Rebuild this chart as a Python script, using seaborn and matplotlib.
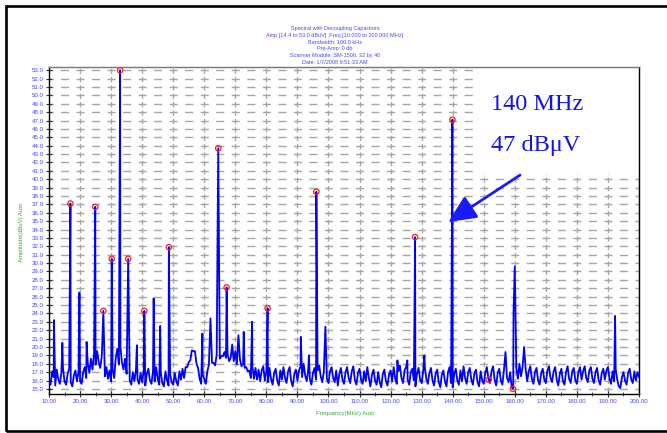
import numpy as np
import pandas as pd
import matplotlib
matplotlib.use("Agg")
import matplotlib.pyplot as plt
import seaborn as sns
from matplotlib.patches import Rectangle
from matplotlib.ticker import MultipleLocator, FormatStrFormatter

# ---------------- data ----------------
title_lines = [
    "Spectral with Decoupling Capacitors",
    "Amp [14.4 to 53.0 dBuV]  Freq [10.000 to 200.000 MHz]",
    "Bandwidth: 100.0 kHz",
    "Pre-Amp: 0 db",
    "Scanner Module: SM-1500, 32 by 40",
    "Date: 1/7/2008 9:51:33 AM",
]
x_label = "Frequency(MHz) Auto"
y_label = "Amplitude(dBuV) Auto"
note_freq = "140 MHz"
note_amp = "47 dB\u03bcV"

# noise floor, sampled every 0.5 MHz from 10 MHz to 200 MHz
noise_start_mhz = 10.0
noise_step_mhz = 0.5
noise_db = [
    16.2, 15.5, 17.1, 16.4, 15.4, 17.3, 16.1, 15.6, 17.0, 17.5,
    15.9, 15.5, 16.8, 17.4, 15.8, 15.3, 16.6, 17.2, 15.9, 17.0,
    16.0, 15.6, 17.0, 17.6, 16.3, 18.0, 16.9, 18.6, 17.3, 19.1,
    17.9, 19.5, 18.2, 17.5, 18.9, 17.1, 16.5, 17.6, 16.2, 17.2,
    15.9, 17.3, 16.3, 18.7, 19.8, 17.9, 20.0, 18.1, 17.3, 18.6,
    16.8, 17.9, 16.0, 15.5, 17.0, 15.9, 17.3, 16.1, 15.6, 16.9,
    15.8, 17.1, 15.4, 16.8, 17.4, 16.0, 15.6, 17.2, 15.9, 17.6,
    16.2, 15.5, 16.9, 15.7, 15.3, 17.1, 16.0, 15.4, 16.8, 15.8,
    15.5, 16.9, 15.9, 15.4, 17.1, 16.1, 17.4, 16.3, 17.6, 17.6,
    18.2, 18.4, 19.6, 19.5, 19.5, 18.0, 17.5, 16.2, 15.6, 16.7,
    16.2, 15.6, 17.1, 17.9, 16.6, 18.1, 18.1, 17.8, 19.1, 17.4,
    18.6, 18.9, 18.9, 19.4, 18.7, 19.2, 18.3, 18.7, 20.3, 18.3,
    19.5, 17.9, 17.9, 18.5, 17.7, 18.0, 17.5, 17.6, 17.1, 17.2,
    16.3, 17.7, 16.2, 17.5, 16.1, 17.3, 15.9, 17.2, 17.7, 16.0,
    17.1, 15.8, 17.5, 16.2, 15.5, 16.9, 17.4, 16.0, 15.4, 17.2,
    16.1, 17.6, 16.3, 15.7, 17.1, 17.6, 15.9, 15.3, 16.8, 17.3,
    16.0, 17.2, 17.7, 16.4, 18.0, 16.6, 15.9, 17.4, 16.2, 15.5,
    16.9, 17.5, 16.1, 17.2, 17.8, 16.5, 15.8, 17.0, 17.6, 16.2,
    15.7, 17.1, 17.6, 16.3, 15.8, 17.2, 15.4, 16.8, 17.5, 16.1,
    15.6, 17.0, 17.6, 16.3, 15.7, 17.1, 17.7, 16.0, 15.5, 16.9,
    17.4, 16.1, 15.6, 17.1, 15.9, 17.6, 16.3, 15.3, 16.7, 17.3,
    16.0, 15.5, 17.0, 15.8, 15.2, 16.8, 17.3, 15.9, 15.4, 16.7,
    17.2, 15.9, 17.6, 16.2, 15.6, 17.1, 17.8, 16.3, 15.7, 17.2,
    17.6, 16.1, 15.5, 17.0, 17.4, 16.0, 15.3, 16.8, 17.5, 16.1,
    15.7, 17.1, 17.7, 16.2, 15.6, 16.9, 17.5, 16.0, 15.4, 16.8,
    17.3, 15.8, 15.2, 16.7, 17.2, 15.9, 15.3, 17.0, 17.6, 15.7,
    15.2, 16.8, 17.4, 16.0, 15.5, 17.2, 15.9, 17.7, 16.3, 15.6,
    17.0, 17.5, 16.1, 15.5, 16.9, 17.3, 15.8, 15.3, 17.1, 16.0,
    15.6, 16.9, 17.6, 16.2, 15.7, 17.1, 17.7, 16.1, 15.4, 16.9,
    17.4, 16.0, 15.5, 17.2, 17.7, 16.3, 15.8, 17.0, 15.2, 15.6,
    16.7, 17.5, 16.2, 18.0, 16.5, 17.6, 16.1, 17.3, 15.9, 17.1,
    17.7, 16.2, 15.6, 17.0, 17.5, 16.0, 15.5, 16.9, 17.4, 16.1,
    15.7, 17.2, 17.7, 16.3, 15.8, 17.1, 17.6, 16.1, 15.4, 16.8,
    17.4, 15.9, 15.5, 17.0, 17.7, 16.2, 15.7, 17.1, 17.5, 16.0,
    15.6, 17.0, 17.6, 16.1, 17.1, 17.7, 16.3, 15.8, 17.2, 17.6,
    16.2, 15.7, 17.0, 17.5, 16.0, 15.5, 16.9, 17.4, 16.1, 17.2,
    17.6, 16.2, 15.6, 17.1, 15.9, 17.3, 16.1, 15.3, 15.1, 16.4,
    17.0, 16.0, 15.5, 16.9, 17.4, 16.1, 15.7, 17.1, 16.0, 17.0,
    16.4,
]

# unmarked narrow spikes
spike_mhz = [11.6, 14.3, 19.8, 22.1, 38.3, 43.7, 45.8, 59.4, 62.0, 71.0,
             72.7, 75.4, 91.1, 93.7, 99.0, 122.2, 125.4, 130.9, 157.0,
             159.6, 160.0, 163.0, 192.3]
spike_db = [23.2, 20.5, 26.5, 20.6, 20.2, 25.8, 22.5, 21.6, 23.4, 21.4,
            21.8, 23.0, 21.2, 19.0, 22.4, 18.4, 18.4, 19.0, 19.4,
            24.2, 29.6, 20.0, 23.7]

# peaks marked with red circles
marked_mhz = [16.9, 24.9, 27.5, 30.2, 32.9, 35.5, 40.7, 48.6, 64.5, 67.2,
              80.4, 96.1, 127.9, 139.9, 151.6, 159.4]
marked_db = [37.1, 36.7, 24.3, 30.5, 53.0, 30.5, 24.3, 31.9, 43.7, 27.1,
             24.6, 38.5, 33.1, 47.1, 16.1, 15.0]

x_ticks = [10, 20, 30, 40, 50, 60, 70, 80, 90, 100, 110, 120, 130, 140,
           150, 160, 170, 180, 190, 200]
y_ticks = [15, 16, 17, 18, 19, 20, 21, 22, 23, 24, 25, 26, 27, 28, 29, 30,
           31, 32, 33, 34, 35, 36, 37, 38, 39, 40, 41, 42, 43, 44, 45, 46,
           47, 48, 49, 50, 51, 52, 53]

# ---------------- build the trace ----------------
noise_mhz = noise_start_mhz + noise_step_mhz * np.arange(len(noise_db))
trace = {round(float(f), 2): float(v) for f, v in zip(noise_mhz, noise_db)}
for f, v in zip(spike_mhz + marked_mhz, spike_db + marked_db):
    trace[round(float(f), 2)] = float(v)
keys = sorted(trace)
line_df = pd.DataFrame({"freq": keys, "amp": [trace[k] for k in keys]})
mark_df = pd.DataFrame({"freq": marked_mhz, "amp": marked_db})

# ---------------- style ----------------
sns.set_theme(style="white", rc={"lines.scale_dashes": False})
plt.rcParams["font.family"] = ["Liberation Sans", "DejaVu Sans"]

W, H, DPI = 667, 433, 100
fig = plt.figure(figsize=(W / DPI, H / DPI), dpi=DPI)
fig.patch.set_facecolor("white")

left_px, right_px, top_px, bot_px = 49, 639, 67.3, 393.5
ax = fig.add_axes([left_px / W, 1 - bot_px / H,
                   (right_px - left_px) / W, (bot_px - top_px) / H])
ax.set_facecolor("white")

xmin, xmax = 10, 200
ymin, ymax = 14.45, 53.35
ax.set_xlim(xmin, xmax)
ax.set_ylim(ymin, ymax)

sns.lineplot(data=line_df, x="freq", y="amp", ax=ax, color="#0000ff",
             linewidth=1.3, sort=False, estimator=None, zorder=3)
sns.scatterplot(data=mark_df, x="freq", y="amp", ax=ax, marker="o", s=15,
                zorder=4)
coll = ax.collections[-1]
coll.set_facecolor("none")
coll.set_edgecolor("#ff1a1a")
coll.set_linewidth(0.9)

ax.set_xlabel("")
ax.set_ylabel("")

# ticks
ax.set_xticks(x_ticks)
ax.set_yticks(y_ticks)
ax.xaxis.set_minor_locator(MultipleLocator(5))
ax.xaxis.set_major_formatter(FormatStrFormatter("%.2f"))
ax.yaxis.set_major_formatter(FormatStrFormatter("%.1f"))
ax.tick_params(axis="both", which="major", direction="inout", length=5,
               width=0.8, color="#303030", labelsize=4.4,
               labelcolor="#4848ff", pad=1.2, bottom=True, left=True)
ax.tick_params(axis="x", which="minor", direction="inout", length=3,
               width=0.6, color="#303030", bottom=True)

for name, sp in ax.spines.items():
    sp.set_visible(True)
    sp.set_linewidth(1.0)
    sp.set_color("#000000" if name != "top" else "#777777")

# dashed grid: dashes centred on crossings
ax_w_px = right_px - left_px
ax_h_px = bot_px - top_px
pt = 72.0 / DPI
per_h = 5 * ax_w_px / (xmax - xmin)
on_h = 0.52 * per_h
off_h = per_h - on_h
ls_h = ((on_h / 2) * pt, (on_h * pt, off_h * pt))
per_v = ax_h_px / (ymax - ymin)
on_v = 0.62 * per_v
off_v = per_v - on_v
d0 = (y_ticks[0] - ymin) * per_v
ls_v = (((on_v / 2 - d0) % per_v) * pt, (on_v * pt, off_v * pt))
ax.set_axisbelow(True)
ax.grid(True, axis="y", which="major", color="#a6a6a6", linewidth=1.0,
        linestyle=ls_h)
ax.grid(True, axis="x", which="major", color="#a6a6a6", linewidth=1.0,
        linestyle=ls_v)
ax.grid(False, axis="x", which="minor")

# white panel behind the annotation
ax.add_patch(Rectangle((146.6, 40.6), 60, 20, facecolor="white",
                       edgecolor="none", zorder=1))

# annotation
blue_txt = "#1212f0"
fig.text(491 / W, 1 - 109.5 / H, note_freq, ha="left", va="baseline",
         fontsize=17.5, color=blue_txt, family=["Liberation Serif", "DejaVu Serif"])
fig.text(491 / W, 1 - 151.5 / H, note_amp, ha="left", va="baseline",
         fontsize=17.5, color=blue_txt, family=["Liberation Serif", "DejaVu Serif"])
ax.annotate("", xy=(138.6, 34.9), xytext=(161.7, 40.5),
            arrowprops=dict(arrowstyle="-|>,head_length=1.4,head_width=0.65",
                            color="#1a1aff", lw=2.0, shrinkA=0, shrinkB=0),
            zorder=5)

# titles
for i, line in enumerate(title_lines):
    fig.text(335 / W, 1 - (28.5 + 6.75 * i) / H, line, ha="center",
             va="center", fontsize=4.0, color="#4848ff")

fig.text(345 / W, 1 - 414 / H, x_label, ha="center", va="center",
         fontsize=4.3, color="#3aa83a")
fig.text(22 / W, 1 - 232 / H, y_label, ha="center", va="center",
         fontsize=4.3, color="#3aa83a", rotation=90)

# outer frame
fig.patches.append(Rectangle((6 / W, 1 - 431 / H), 1.2, (431 - 5.5) / H,
                             transform=fig.transFigure, fill=False,
                             edgecolor="black", linewidth=1.9))

fig.savefig("out.png", dpi=DPI, facecolor="white")
